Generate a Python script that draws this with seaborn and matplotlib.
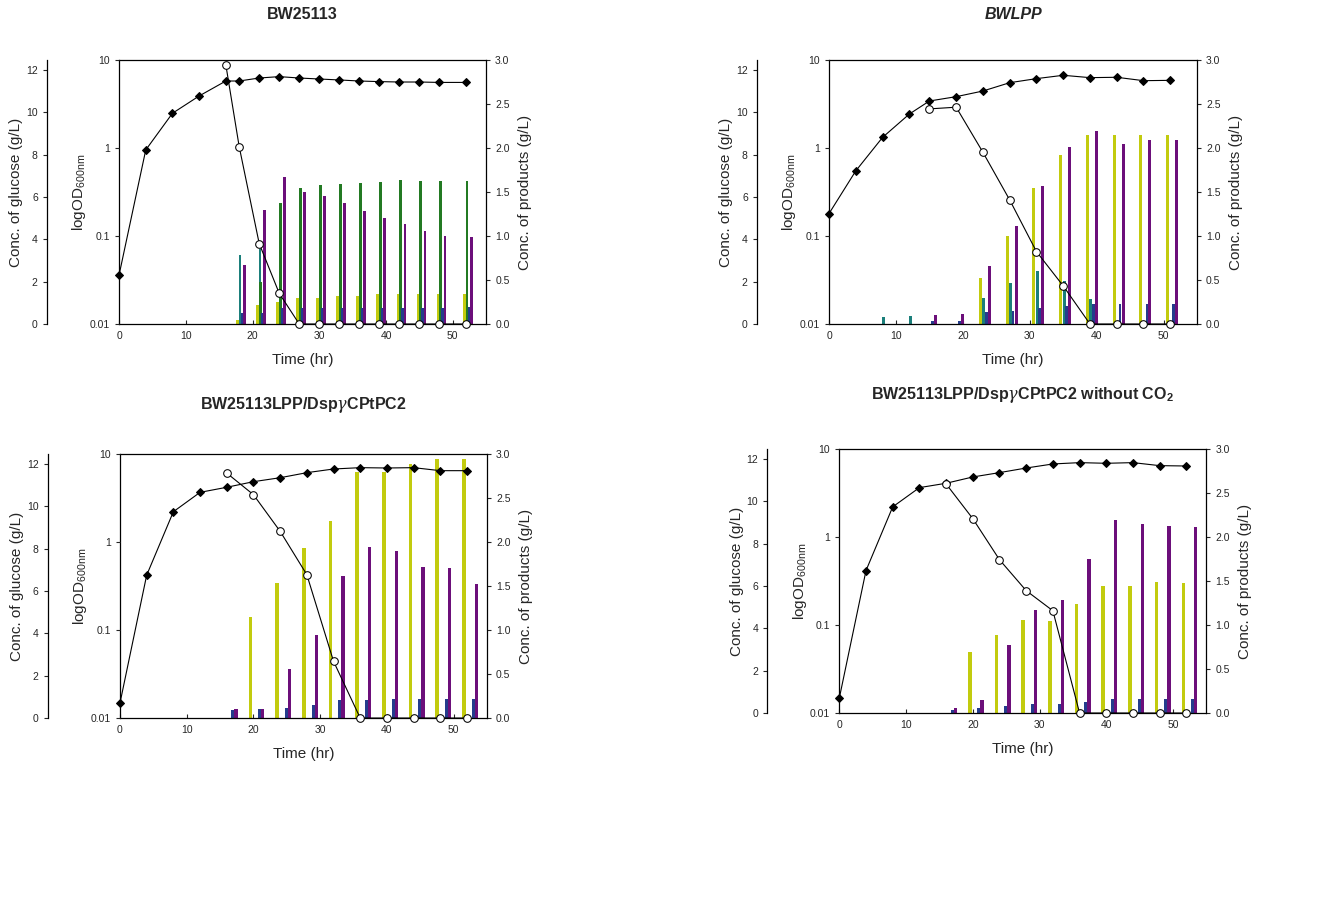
import numpy as np
import matplotlib
matplotlib.use('Agg')
import matplotlib.pyplot as plt
from matplotlib.ticker import FixedLocator, FixedFormatter, NullLocator
import seaborn as sns

# ---------------- data ----------------
# panel 1: BW25113
p1_od_time = [0, 4, 8, 12, 16, 18, 21, 24, 27, 30, 33, 36, 39, 42, 45, 48, 52]
p1_od = [0.036, 0.95, 2.48, 3.90, 5.77, 5.77, 6.24, 6.47, 6.24, 6.08, 5.93, 5.77, 5.68, 5.62, 5.62, 5.56, 5.56]
p1_glc_time = [16, 18, 21, 24, 27, 30, 33, 36, 39, 42, 45, 48, 52]
p1_glc = [12.24, 8.38, 3.80, 1.45, 0, 0, 0, 0, 0, 0, 0, 0, 0]
p1_bar_time = [18, 21, 24, 27, 30, 33, 36, 39, 42, 45, 48, 52]
p1_yellow = [0.05, 0.22, 0.25, 0.30, 0.30, 0.32, 0.32, 0.34, 0.34, 0.34, 0.34, 0.34]
p1_teal = [0.78, 0.85, 0, 0, 0, 0, 0, 0, 0, 0, 0, 0]
p1_green = [0, 0.48, 1.37, 1.54, 1.58, 1.59, 1.60, 1.61, 1.64, 1.62, 1.62, 1.62]
p1_navy = [0.12, 0.12, 0.18, 0.18, 0.18, 0.18, 0.18, 0.18, 0.18, 0.18, 0.18, 0.19]
p1_purple = [0.67, 1.30, 1.67, 1.50, 1.45, 1.37, 1.28, 1.20, 1.14, 1.06, 1.00, 0.985]

# panel 2: BWLPP
p2_od_time = [0, 4, 8, 12, 15, 19, 23, 27, 31, 35, 39, 43, 47, 51]
p2_od = [0.18, 0.55, 1.32, 2.43, 3.42, 3.83, 4.44, 5.52, 6.14, 6.70, 6.30, 6.36, 5.82, 5.87]
p2_glc_time = [15, 19, 23, 27, 31, 35, 39, 43, 47, 51]
p2_glc = [10.16, 10.24, 8.11, 5.86, 3.42, 1.8, 0, 0, 0, 0]
p2_bar_time = [8, 12, 15, 19, 23, 27, 31, 35, 39, 43, 47, 51]
p2_yellow = [0, 0, 0, 0, 0.52, 1.00, 1.54, 1.92, 2.15, 2.15, 2.15, 2.15]
p2_teal = [0.08, 0.09, 0, 0, 0.30, 0.47, 0.60, 0.49, 0.28, 0, 0, 0]
p2_navy = [0, 0, 0.03, 0.03, 0.14, 0.15, 0.18, 0.20, 0.23, 0.23, 0.23, 0.23]
p2_purple = [0, 0, 0.10, 0.11, 0.66, 1.11, 1.57, 2.01, 2.19, 2.05, 2.09, 2.09]

# panel 3: BW25113LPP/DspγCPtPC2
p3_od_time = [0, 4, 8, 12, 16, 20, 24, 28, 32, 36, 40, 44, 48, 52]
p3_od = [0.0148, 0.42, 2.21, 3.67, 4.19, 4.85, 5.38, 6.14, 6.76, 7.0, 6.94, 7.0, 6.47, 6.47]
p3_glc_time = [16, 20, 24, 28, 32, 36, 40, 44, 48, 52]
p3_glc = [11.57, 10.55, 8.82, 6.77, 2.68, 0, 0, 0, 0, 0]
p3_bar_time = [16, 20, 24, 28, 32, 36, 40, 44, 48, 52]
p3_yellow = [0, 1.15, 1.54, 1.93, 2.24, 2.80, 2.80, 2.89, 2.94, 2.94]
p3_navy = [0.086, 0.10, 0.11, 0.15, 0.21, 0.21, 0.22, 0.22, 0.22, 0.22]
p3_purple = [0.10, 0.10, 0.56, 0.945, 1.61, 1.94, 1.90, 1.72, 1.71, 1.525]

# panel 4: ... without CO2
p4_od_time = [0, 4, 8, 12, 16, 20, 24, 28, 32, 36, 40, 44, 48, 52]
p4_od = [0.0148, 0.416, 2.20, 3.64, 4.08, 4.81, 5.39, 6.08, 6.76, 7.0, 6.88, 7.0, 6.47, 6.41]
p4_glc_time = [16, 20, 24, 28, 32, 36, 40, 44, 48, 52]
p4_glc = [10.82, 9.18, 7.24, 5.78, 4.83, 0, 0, 0, 0, 0]
p4_bar_time = [16, 20, 24, 28, 32, 36, 40, 44, 48, 52]
p4_yellow = [0, 0.69, 0.89, 1.06, 1.04, 1.24, 1.445, 1.445, 1.49, 1.48]
p4_navy = [0.03, 0.057, 0.083, 0.106, 0.106, 0.13, 0.16, 0.16, 0.16, 0.16]
p4_purple = [0.057, 0.15, 0.775, 1.165, 1.286, 1.75, 2.19, 2.15, 2.13, 2.11]

# ---------------- style ----------------
sns.set_style('ticks')
plt.rcParams['font.family'] = ['Liberation Sans', 'DejaVu Sans']
plt.rcParams['mathtext.fontset'] = 'custom'
plt.rcParams['mathtext.rm'] = 'Liberation Sans'
plt.rcParams['mathtext.it'] = 'DejaVu Serif:italic'
plt.rcParams['mathtext.bf'] = 'Liberation Sans:bold'

YELLOW = '#c2cb0e'
TEAL = '#1b7f7b'
GREEN = '#237a23'
NAVY = '#243c8c'
PURPLE = '#6c0f7a'

fig = plt.figure(figsize=(13.17, 8.98), dpi=100)


def draw_panel(rect, title, title_y, title_kw, od_time, od, glc_time, glc, bar_time, bars):
    # main axes: products (bars) on the right-hand scale
    ax = fig.add_axes(rect)
    ax_od = ax.twinx()
    ax_g = ax.twinx()

    t = np.array(bar_time, dtype=float)
    for vals, color, off, w in bars:
        ax.bar(t + off, vals, width=w, color=color, linewidth=0)
    ax.set_xlim(0, 55)
    ax.set_ylim(0, 3.0)
    ax.yaxis.tick_right()
    ax.yaxis.set_label_position('right')
    ax.set_yticks(np.arange(0, 3.01, 0.5))
    ax.set_yticklabels([f'{v:.1f}' for v in np.arange(0, 3.01, 0.5)])
    ax.set_xticks([0, 10, 20, 30, 40, 50])
    ax.tick_params(axis='x', direction='in', length=3, labelsize=7.5, pad=5)
    ax.tick_params(axis='y', direction='out', length=3, labelsize=7.5)
    for s in ax.spines.values():
        s.set_linewidth(0.9)
        s.set_color('black')
    ax.set_xlabel('Time (hr)', fontsize=11, labelpad=9)
    ax.set_ylabel('Conc. of products (g/L)', fontsize=11, labelpad=6)

    # log OD on the box's left spine
    sns.lineplot(x=od_time, y=od, ax=ax_od, color='black', marker='D', markersize=4.5,
                 markeredgecolor='black', linewidth=0.8, estimator=None, clip_on=False)
    ax_od.set_yscale('log')
    ax_od.set_ylim(0.01, 10)
    ax_od.yaxis.tick_left()
    ax_od.yaxis.set_label_position('left')
    ax_od.yaxis.set_major_locator(FixedLocator([0.01, 0.1, 1, 10]))
    ax_od.yaxis.set_major_formatter(FixedFormatter(['0.01', '0.1', '1', '10']))
    ax_od.yaxis.set_minor_locator(NullLocator())
    ax_od.tick_params(axis='y', direction='out', length=3, labelsize=7.5)
    for s in ax_od.spines.values():
        s.set_visible(False)
    ax_od.set_ylabel(r'logOD$_{\mathrm{600nm}}$', fontsize=11, labelpad=1)

    # glucose on a detached axis further left
    sns.lineplot(x=glc_time, y=glc, ax=ax_g, color='black', marker='o', markersize=5.5,
                 markerfacecolor='white', markeredgecolor='black', linewidth=0.8,
                 estimator=None, clip_on=False)
    ax_g.set_ylim(0, 12.47)
    for name, s in ax_g.spines.items():
        s.set_visible(name == 'left')
    ax_g.spines['left'].set_position(('outward', 52))
    ax_g.spines['left'].set_linewidth(0.9)
    ax_g.spines['left'].set_color('black')
    ax_g.yaxis.tick_left()
    ax_g.yaxis.set_label_position('left')
    ax_g.set_yticks([0, 2, 4, 6, 8, 10, 12])
    ax_g.tick_params(axis='y', direction='out', length=3, labelsize=7.5)
    ax_g.set_ylabel('Conc. of glucose (g/L)', fontsize=11, labelpad=2)

    ax.text(0.5, title_y, title, transform=ax.transAxes, ha='center', va='center',
            fontsize=11.5, fontweight='bold', **title_kw)


draw_panel([0.0904, 0.6392, 0.2787, 0.2940], 'BW25113', 1.174, {},
           p1_od_time, p1_od, p1_glc_time, p1_glc, p1_bar_time,
           [(p1_yellow, YELLOW, -0.25, 0.35), (p1_teal, TEAL, 0.1, 0.4),
            (p1_green, GREEN, 0.15, 0.4), (p1_navy, NAVY, 0.45, 0.35),
            (p1_purple, PURPLE, 0.8, 0.35)])

draw_panel([0.6295, 0.6392, 0.2794, 0.2940], 'BWLPP', 1.174, {'style': 'italic'},
           p2_od_time, p2_od, p2_glc_time, p2_glc, p2_bar_time,
           [(p2_yellow, YELLOW, -0.4, 0.45), (p2_teal, TEAL, 0.15, 0.45),
            (p2_navy, NAVY, 0.5, 0.4), (p2_purple, PURPLE, 0.95, 0.45)])

draw_panel([0.0911, 0.2004, 0.2787, 0.2940], r'BW25113LPP/Dsp$\gamma$CPtPC2', 1.186, {},
           p3_od_time, p3_od, p3_glc_time, p3_glc, p3_bar_time,
           [(p3_yellow, YELLOW, -0.45, 0.55), (p3_navy, NAVY, 0.95, 0.5),
            (p3_purple, PURPLE, 1.4, 0.5)])

draw_panel([0.6373, 0.2060, 0.2787, 0.2940],
           r'BW25113LPP/Dsp$\gamma$CPtPC2 without CO$_\mathbf{2}$', 1.205, {},
           p4_od_time, p4_od, p4_glc_time, p4_glc, p4_bar_time,
           [(p4_yellow, YELLOW, -0.45, 0.55), (p4_navy, NAVY, 0.95, 0.5),
            (p4_purple, PURPLE, 1.4, 0.5)])

fig.savefig('out.png', dpi=100)
